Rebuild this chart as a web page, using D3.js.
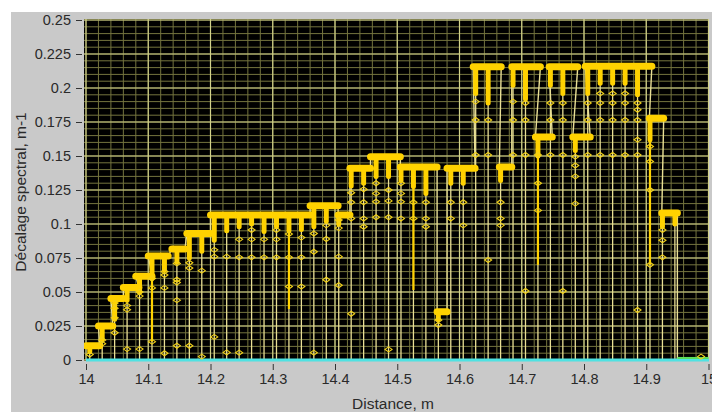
<!DOCTYPE html>
<html>
<head>
<meta charset="utf-8">
<script src="https://cdn.jsdelivr.net/npm/d3@7"></script>
<style>
    body { margin: 0; background: #ffffff; }
    svg { display: block; }
    .axis text { font-family: "Liberation Sans", Arial, sans-serif; font-size: 14.5px; fill: #2a2a2a; }
    .axis line { stroke: #333333; }
    .axis path { display: none; }
    .axis-labels { font-family: "Liberation Sans", Arial, sans-serif; font-size: 15.5px; fill: #2a2a2a; }
</style>
</head>
<body>
<svg id="svg1" width="712" height="412"></svg>
<script>
//Chart global variables
const width = 712;
const height = 412;
const plotLeft = 86, plotRight = 708.5, plotTop = 20, plotBottom = 360;

const xTicks = [14, 14.1, 14.2, 14.3, 14.4, 14.5, 14.6, 14.7, 14.8, 14.9, 15];
const xTickLabels = ["14", "14.1", "14.2", "14.3", "14.4", "14.5", "14.6", "14.7", "14.8", "14.9", "15"];
const yTicks = [0, 0.025, 0.05, 0.075, 0.1, 0.125, 0.15, 0.175, 0.2, 0.225, 0.25];
const yTickLabels = ["0", "0.025", "0.05", "0.075", "0.1", "0.125", "0.15", "0.175", "0.2", "0.225", "0.25"];

// plateaus of the trace: [x start, x end, level]
const plateaus = [
    [14.000, 14.022, 0.0105], [14.020, 14.043, 0.0250], [14.040, 14.060, 0.0453],
    [14.060, 14.085, 0.0534], [14.080, 14.106, 0.0615], [14.100, 14.132, 0.0765],
    [14.138, 14.159, 0.0816], [14.162, 14.200, 0.0930], [14.200, 14.360, 0.1066],
    [14.360, 14.405, 0.1134], [14.405, 14.424, 0.1066], [14.424, 14.457, 0.1410],
    [14.457, 14.505, 0.1494], [14.505, 14.564, 0.1420], [14.564, 14.580, 0.0355],
    [14.580, 14.625, 0.1410], [14.622, 14.667, 0.2157], [14.664, 14.684, 0.1420],
    [14.684, 14.730, 0.2157], [14.722, 14.749, 0.1640], [14.744, 14.790, 0.2157],
    [14.782, 14.810, 0.1640], [14.802, 14.909, 0.2160], [14.905, 14.928, 0.1777],
    [14.925, 14.950, 0.1080]
];

// drops of the trace: [x, top, end of dense part, end of bright part (0 = none)]
const drops = [
    [14.006, 0.0105, 0.0060, 0], [14.026, 0.0250, 0.0150, 0], [14.046, 0.0453, 0.0300, 0],
    [14.066, 0.0534, 0.0440, 0], [14.086, 0.0615, 0.0500, 0], [14.106, 0.0765, 0.0600, 0.0135],
    [14.126, 0.0765, 0.0660, 0], [14.146, 0.0816, 0.0720, 0], [14.166, 0.0930, 0.0750, 0],
    [14.186, 0.0930, 0.0800, 0], [14.206, 0.1066, 0.0880, 0], [14.226, 0.1066, 0.0950, 0],
    [14.246, 0.1066, 0.0980, 0], [14.266, 0.1066, 0.1000, 0], [14.286, 0.1066, 0.0944, 0],
    [14.306, 0.1066, 0.0980, 0], [14.326, 0.1066, 0.0950, 0.0375], [14.346, 0.1066, 0.0960, 0],
    [14.366, 0.1134, 0.0980, 0], [14.386, 0.1134, 0.1020, 0], [14.406, 0.1066, 0.1000, 0],
    [14.426, 0.1410, 0.1280, 0], [14.446, 0.1410, 0.1300, 0], [14.466, 0.1494, 0.1350, 0],
    [14.486, 0.1494, 0.1350, 0], [14.506, 0.1420, 0.1320, 0], [14.526, 0.1420, 0.1275, 0.0515],
    [14.546, 0.1420, 0.1225, 0], [14.566, 0.0355, 0.0300, 0], [14.586, 0.1410, 0.1300, 0],
    [14.606, 0.1410, 0.1300, 0], [14.626, 0.2157, 0.1960, 0], [14.646, 0.2157, 0.1890, 0],
    [14.666, 0.1420, 0.1320, 0], [14.686, 0.2157, 0.2020, 0], [14.706, 0.2157, 0.1920, 0],
    [14.726, 0.1640, 0.1500, 0.0700], [14.746, 0.2157, 0.2020, 0], [14.766, 0.2157, 0.1960, 0],
    [14.786, 0.1640, 0.1540, 0], [14.806, 0.2160, 0.1960, 0], [14.826, 0.2160, 0.2035, 0],
    [14.846, 0.2160, 0.2035, 0], [14.866, 0.2160, 0.2035, 0], [14.886, 0.2160, 0.1950, 0],
    [14.906, 0.1777, 0.1620, 0.0700], [14.926, 0.1080, 0.0980, 0], [14.946, 0.1080, 0.1000, 0]
];

// single points along each drop (same order as drops)
const dropMarks = [
    [0.004], [0.0147, 0.012], [0.042, 0.038, 0.031, 0.02],
    [0.04, 0.037, 0.008], [0.05, 0.047, 0.008], [0.06, 0.053, 0.0135],
    [0.065, 0.0625, 0.053, 0.005], [0.071, 0.059, 0.057, 0.044, 0.0105], [0.0715, 0.0676, 0.0105],
    [0.0657, 0.0025], [0.081, 0.076, 0.017], [0.076, 0.0056],
    [0.0887, 0.0755, 0.0054], [0.0956, 0.0887, 0.0755], [0.0887, 0.0755],
    [0.0956, 0.0887, 0.0755], [0.0926, 0.0755, 0.054], [0.09, 0.0755, 0.054],
    [0.093, 0.0796, 0.0054], [0.099, 0.089, 0.059], [0.103, 0.097, 0.076, 0.055],
    [0.123, 0.116, 0.104, 0.034], [0.1255, 0.116, 0.104, 0.098], [0.13, 0.1225, 0.1164, 0.105],
    [0.125, 0.117, 0.105, 0.0078], [0.13, 0.1225, 0.1164, 0.104], [0.116, 0.104],
    [0.116, 0.104, 0.098], [0.0294, 0.0257], [0.116, 0.104],
    [0.116, 0.099], [0.19, 0.1765, 0.1507], [0.1765, 0.1507, 0.0735],
    [0.116, 0.104, 0.099], [0.19, 0.1765, 0.1507], [0.189, 0.1765, 0.1507, 0.0507],
    [0.1507, 0.13, 0.11], [0.189, 0.1765, 0.1507], [0.189, 0.1765, 0.1507, 0.0507],
    [0.1495, 0.143, 0.135, 0.115], [0.189, 0.1765, 0.1507], [0.196, 0.189, 0.1765, 0.1507],
    [0.196, 0.189, 0.1765, 0.1507], [0.196, 0.189, 0.1765, 0.1507], [0.189, 0.184, 0.1765, 0.162, 0.1507, 0.0368],
    [0.157, 0.146, 0.125, 0.07], [0.0956, 0.088, 0.0755], []
];

// end of the trace, close to zero
const tailX = [14.950, 15.000];
const tailY = [0.0015, 0.0015];
const tailMarkX = [14.988];
const tailMarkY = [0.0025];

const xScale = d3.scaleLinear().domain([14, 15]).range([plotLeft, plotRight]);
const yScale = d3.scaleLinear().domain([0, 0.25]).range([plotBottom, plotTop]);

const svg = d3.select("#svg1");

// panel
svg.append("rect").attr("x", 11).attr("y", 12).attr("width", width - 11).attr("height", height - 12).attr("fill", "#c9c9c9");
svg.append("rect").attr("x", 84).attr("y", 19).attr("width", 625).attr("height", 342).attr("fill", "#000000");

svg.append("clipPath").attr("id", "plotclip")
    .append("rect").attr("x", 84).attr("y", 19).attr("width", 625).attr("height", 343);

const plot = svg.append("g").attr("clip-path", "url(#plotclip)");

// grid
plot.selectAll(".minor-x").data(xScale.ticks(50)).enter().append("line")
    .attr("x1", d => xScale(d)).attr("x2", d => xScale(d))
    .attr("y1", plotTop - 1).attr("y2", plotBottom)
    .attr("stroke", "#74743e").attr("stroke-width", 1);
plot.selectAll(".minor-y").data(yScale.ticks(50)).enter().append("line")
    .attr("x1", 84).attr("x2", 709)
    .attr("y1", d => yScale(d)).attr("y2", d => yScale(d))
    .attr("stroke", "#74743e").attr("stroke-width", 1);
plot.selectAll(".major-x").data(xTicks).enter().append("line")
    .attr("x1", d => xScale(d)).attr("x2", d => xScale(d))
    .attr("y1", plotTop - 1).attr("y2", plotBottom)
    .attr("stroke", "#d2d28a").attr("stroke-width", 1.2);
plot.selectAll(".major-y").data(yTicks).enter().append("line")
    .attr("x1", 84).attr("x2", 709)
    .attr("y1", d => yScale(d)).attr("y2", d => yScale(d))
    .attr("stroke", "#d2d28a").attr("stroke-width", 1.2);

const gold = "#ffd200";
const pale = "#e9df95";

// thin drop lines down to zero
plot.selectAll(".drop").data(drops).enter().append("line")
    .attr("x1", d => xScale(d[0])).attr("x2", d => xScale(d[0]))
    .attr("y1", d => yScale(d[1])).attr("y2", yScale(0))
    .attr("stroke", pale).attr("stroke-width", 1.3);

// connecting trace between plateaus (thin)
const tracePoints = [];
plateaus.forEach(p => {
    tracePoints.push([p[0], p[2]]);
    tracePoints.push([p[1], p[2]]);
});
tracePoints.push([tailX[0], 0]);

const line = d3.line().x(d => xScale(d[0])).y(d => yScale(d[1]));

plot.append("path")
    .attr("d", line(tracePoints))
    .attr("fill", "none")
    .attr("stroke", pale)
    .attr("stroke-width", 1.4);

// zero trace
plot.append("line")
    .attr("x1", plotLeft).attr("x2", 709)
    .attr("y1", yScale(0)).attr("y2", yScale(0))
    .attr("stroke", "#4fe2e2").attr("stroke-width", 3);

// bright partial drops
plot.selectAll(".bright").data(drops.filter(d => d[3] > 0)).enter().append("line")
    .attr("x1", d => xScale(d[0])).attr("x2", d => xScale(d[0]))
    .attr("y1", d => yScale(d[1])).attr("y2", d => yScale(d[3]))
    .attr("stroke", gold).attr("stroke-width", 2.2);

// dense drips under the plateaus
plot.selectAll(".drip").data(drops).enter().append("line")
    .attr("x1", d => xScale(d[0])).attr("x2", d => xScale(d[0]))
    .attr("y1", d => yScale(d[1])).attr("y2", d => yScale(d[2]))
    .attr("stroke", gold).attr("stroke-width", 5).attr("stroke-linecap", "round");

// plateaus (thick)
plot.selectAll(".plateau").data(plateaus).enter().append("line")
    .attr("x1", d => xScale(d[0])).attr("x2", d => xScale(d[1]))
    .attr("y1", d => yScale(d[2])).attr("y2", d => yScale(d[2]))
    .attr("stroke", gold)
    .attr("stroke-width", 7)
    .attr("stroke-linecap", "round");

// tail near zero
plot.append("path")
    .attr("d", line(tailX.map((v, i) => [v, tailY[i]])))
    .attr("fill", "none")
    .attr("stroke", "#5ee05a")
    .attr("stroke-width", 2);

// point markers
const marks = [];
drops.forEach((d, i) => dropMarks[i].forEach(v => marks.push([d[0], v])));
tailMarkX.forEach((v, i) => marks.push([v, tailMarkY[i]]));

plot.selectAll(".mark").data(marks).enter().append("path")
    .attr("d", "M-3.5,0L0,-2.5L3.5,0L0,2.5Z")
    .attr("transform", d => "translate(" + xScale(d[0]) + "," + yScale(d[1]) + ")")
    .attr("fill", "none")
    .attr("stroke", "#f3d21a")
    .attr("stroke-width", 1.1);

// axes
const bottomAxis = d3.axisBottom(xScale).tickValues(xTicks)
    .tickFormat((d, i) => xTickLabels[i]).tickSize(6).tickPadding(4);
const leftAxis = d3.axisLeft(yScale).tickValues(yTicks)
    .tickFormat((d, i) => yTickLabels[i]).tickSize(6).tickPadding(5);

svg.append("g")
    .attr("class", "axis")
    .attr("transform", "translate(0,364)")
    .call(bottomAxis);

svg.append("g")
    .attr("class", "axis")
    .attr("transform", "translate(82,0)")
    .call(leftAxis);

svg.append("text")
    .attr("class", "axis-labels")
    .attr("x", 393)
    .attr("y", 409)
    .attr("text-anchor", "middle")
    .text("Distance, m");

svg.append("text")
    .attr("class", "axis-labels")
    .attr("text-anchor", "middle")
    .attr("transform", "translate(26,192) rotate(-90)")
    .text("Décalage spectral, m-1");
</script>
</body>
</html>
